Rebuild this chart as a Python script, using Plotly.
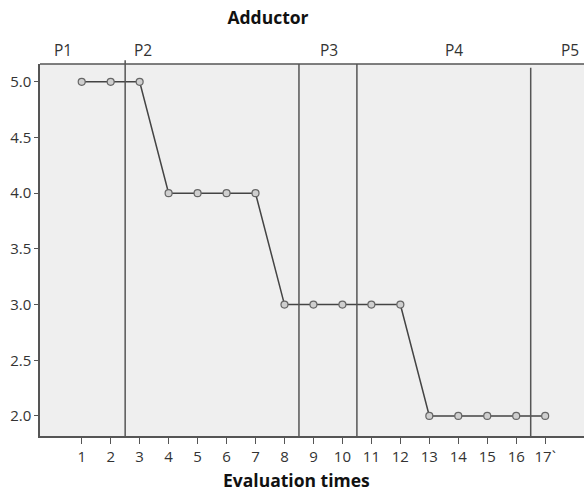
import plotly.graph_objects as go

# Evaluation sessions and adductor scores
evaluation_times = list(range(1, 18))
adductor_scores = [5, 5, 5, 4, 4, 4, 4, 3, 3, 3, 3, 3, 2, 2, 2, 2, 2]
x_tick_labels = [str(i) for i in range(1, 17)] + ["17`"]
y_tick_values = [2.0, 2.5, 3.0, 3.5, 4.0, 4.5, 5.0]

# Phase boundaries and phase labels
phase_boundaries = [2.5, 8.5, 10.5, 16.5]
phase_labels = ["P1", "P2", "P3", "P4", "P5"]
phase_label_x = [0.35, 3.1, 9.55, 13.85, 17.85]

font_family = "Open Sans, Noto Sans, sans-serif"
axis_color = "#555555"
text_color = "#333333"

fig = go.Figure()
fig.add_trace(go.Scatter(
    x=evaluation_times,
    y=adductor_scores,
    mode="lines+markers",
    line=dict(color="#444444", width=1.5),
    marker=dict(symbol="circle", size=7, color="#cfcfcf",
                line=dict(color="#666666", width=1.2)),
    showlegend=False,
))

# Vertical phase-change lines
line_tops = [1.01, 1.0, 1.0, 0.99]
for xb, top in zip(phase_boundaries, line_tops):
    fig.add_shape(type="line", xref="x", yref="paper",
                  x0=xb, x1=xb, y0=0, y1=top,
                  line=dict(color="#555555", width=1.5))

for lbl, lx in zip(phase_labels, phase_label_x):
    fig.add_annotation(x=lx, y=1.0, xref="x", yref="paper",
                       text=lbl, showarrow=False, yanchor="bottom", yshift=1,
                       font=dict(family=font_family, size=15.5, color=text_color))

# Axis title, centred under the tick labels
fig.add_annotation(x=(296 - 40) / 544, y=-(480 - 436) / 372,
                   xref="paper", yref="paper", xanchor="center", yanchor="middle",
                   text="<b>Evaluation times</b>", showarrow=False,
                   font=dict(family=font_family, size=17.5, color="#111111"))

fig.update_layout(
    width=584, height=493,
    margin=dict(l=40, r=0, t=64, b=57),
    paper_bgcolor="white",
    plot_bgcolor="#efefef",
    font=dict(family=font_family, color=text_color),
    title=dict(text="<b>Adductor</b>", x=268 / 584, xanchor="center",
               y=1 - 18 / 493, yanchor="middle",
               font=dict(family=font_family, size=17.5, color="#111111")),
    xaxis=dict(
        range=[-0.44, 18.34],
        tickmode="array", tickvals=evaluation_times, ticktext=x_tick_labels,
        ticks="outside", ticklen=6, tickcolor=axis_color, tickwidth=1,
        showgrid=False, zeroline=False,
        showline=True, linecolor=axis_color, linewidth=1.5, mirror=False,
        tickfont=dict(family=font_family, size=15, color=text_color),
    ),
    yaxis=dict(
        range=[1.82, 5.16],
        tickmode="array", tickvals=y_tick_values,
        ticktext=[f"{v:.1f}" for v in y_tick_values],
        ticks="outside", ticklen=4, tickcolor=axis_color,
        showgrid=False, zeroline=False,
        showline=True, linecolor=axis_color, linewidth=1.5,
        tickfont=dict(family=font_family, size=15, color=text_color),
    ),
)
# Top border of the plot area
fig.add_shape(type="line", xref="paper", yref="paper", x0=0, x1=1, y0=1, y1=1,
              line=dict(color=axis_color, width=1.5))

fig.write_html("out.html")
